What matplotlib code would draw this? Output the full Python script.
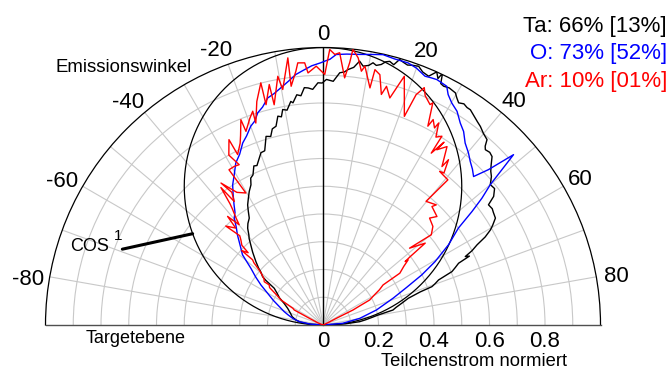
import numpy as np
import matplotlib
matplotlib.use("Agg")
import matplotlib.pyplot as plt

plt.rcParams['font.family'] = ['Liberation Sans', 'DejaVu Sans']

# Emission angle (deg) and normalised particle flux for each species
ta_angle = [-90, -86, -82.5, -79.5, -75, -70, -64.7, -61, -58, -55.5, -53, -52, -51.3, -49.5,
            -48.5, -46.6, -45, -44, -42, -40.5, -39.5, -37.9, -36.5, -34.6, -33.2, -32.1, -30.5,
            -28.9, -27.2, -26.2, -25, -23.5, -22.5, -20.9, -19.8, -18.5, -16.8, -15.5, -14.5,
            -13.3, -12.2, -11.3, -10.6, -9.5, -8.2, -7.7, -6.5, -5.5, -4.5, -3.6, -2.5, -1.2,
            -0.2, 0.8, 2.4, 3.8, 4.8, 5.6, 6.8, 7.9, 8.8, 10, 10.8, 11.6, 12.6, 13.4, 14.2,
            15.2, 16.1, 17, 18, 19, 20.3, 21.5, 23, 24.2, 25.0, 25.4, 26.0, 26.8, 28, 29.7,
            30.5, 31.4, 32.5, 33.5, 34.4, 36, 37.2, 38.4, 40, 41.5, 42.2, 42.8, 44, 45.1, 46.5,
            47.5, 48.6, 50, 51.5, 53, 54, 55.5, 56.5, 58.2, 59.5, 60.4, 61.5, 62.5, 63.5, 64.3,
            64.8, 65.5, 66.5, 67.5, 68.2, 68.7, 69.8, 70.6, 71.2, 72.6, 74.5, 76.5, 77.9, 79.8,
            81.1, 83, 84.8, 87, 90]
ta_flux = [0, 0.05, 0.085, 0.099, 0.115, 0.125, 0.141, 0.16, 0.185, 0.2, 0.22, 0.262, 0.279, 0.295,
           0.31, 0.333, 0.352, 0.365, 0.389, 0.41, 0.42, 0.442, 0.455, 0.468, 0.492, 0.511, 0.53,
           0.55, 0.568, 0.59, 0.597, 0.625, 0.622, 0.644, 0.66, 0.662, 0.71, 0.705, 0.73,
           0.736, 0.77, 0.765, 0.79, 0.785, 0.814, 0.808, 0.835, 0.83, 0.858, 0.856, 0.85, 0.873,
           0.872, 0.885, 0.879, 0.911, 0.915, 0.925, 0.935, 0.96, 0.944, 0.95, 0.962, 0.955, 0.962,
           0.975, 0.98, 0.972, 0.996, 0.99, 0.985, 0.99, 0.994, 0.98, 0.974, 1.0, 0.98, 1.004,
           0.968, 0.964, 0.968, 0.963, 0.95, 0.938, 0.945, 0.94, 0.94, 0.928, 0.92, 0.913, 0.90,
           0.892, 0.87, 0.861, 0.865, 0.86, 0.835, 0.82, 0.809, 0.787, 0.79, 0.77, 0.737, 0.74,
           0.736, 0.731, 0.71, 0.694, 0.665, 0.626, 0.60, 0.569, 0.583, 0.537, 0.52, 0.503, 0.47,
           0.447, 0.43, 0.416, 0.37, 0.322, 0.295, 0.27, 0.258, 0.2, 0.18, 0.155, 0.133, 0.08, 0]

o_angle = [-90, -86, -82, -78, -74, -71, -67, -63.6, -60, -57.2, -54.5, -51.8, -48.9, -46.5, -43.5,
           -41.5, -39.7, -38, -36.5, -34.5, -32.8, -30.5, -28.3, -26, -23.8, -22, -20, -18.5,
           -17.1, -15.5, -13.7, -12, -10.1, -8, -6.2, -4.5, -2.5, -0.5, 0.4, 1.5, 2.8, 5, 7.7,
           10, 12.5, 15, 18, 20, 22.3, 23.5, 24.9, 27.4, 28.5, 30.1, 32.1, 34.2, 36, 38, 40.2,
           42, 43.8, 45.4, 46.8, 48.2, 50, 51.4, 52.7, 54.4, 57.4, 60.5, 63.1, 65.8, 69.1, 74.3,
           79.7, 85, 90]
o_flux = [0, 0.045, 0.085, 0.11, 0.13, 0.148, 0.172, 0.2, 0.232, 0.266, 0.298, 0.331, 0.385, 0.41,
          0.448, 0.472, 0.501, 0.515, 0.539, 0.572, 0.601, 0.63, 0.663, 0.685, 0.717, 0.735, 0.762,
          0.775, 0.80, 0.815, 0.842, 0.852, 0.868, 0.888, 0.908, 0.92, 0.935, 0.945, 0.951, 0.958,
          0.976, 0.98, 0.984, 0.99, 0.998, 0.993, 0.993, 0.985, 0.969, 0.972, 0.975, 0.969, 0.945,
          0.925, 0.909, 0.880, 0.862, 0.832, 0.812, 0.793, 0.778, 0.762, 0.818, 0.921, 0.787,
          0.733, 0.675, 0.600, 0.537, 0.464, 0.399, 0.330, 0.270, 0.200, 0.135, 0.072, 0]

ar_angle = [-90, -67, -64, -62.4, -61, -59.2, -57, -55, -53.3, -53.6, -52, -50.5, -49.4, -48, -47.2,
            -47.5, -46, -45.5, -44, -43, -44.5, -42, -41.3, -39.9, -39, -38, -37.5, -36.6, -35.7,
            -34.5, -35.7, -33, -30.3, -31.2, -29.3, -27.6, -29, -26.9, -26.6, -24.5, -23.5, -21.8,
            -21.7, -19.5, -18.2, -18.4, -16.5, -14.4, -14.5, -12.6, -12.5, -10.3, -9.7, -7.5,
            -7.6, -6.1, -5.5, -4, -3.4, -1.5, 0.4, 1.4, 2.5, 3.5, 5.0, 5.8, 6.2, 7.5, 8.6, 9.2,
            11.2, 11.5, 12.8, 14.2, 14.9, 16.4, 17.6, 18.1, 21.3, 22.0, 23.1, 24.0, 25.9, 26.3,
            27.8, 28.2, 29.5, 29.8, 31.0, 32.2, 32.2, 33.5, 33.0, 34.8, 36.9, 37.2, 38.5, 37.2,
            40.7, 39.8, 43.3, 42.6, 46.4, 44.9, 48.1, 50.2, 48.4, 51.3, 51.9, 52.3, 52.6, 54, 56,
            56.3, 58, 60, 61.8, 62.5, 63.4, 63.3, 65, 90]
ar_flux = [0, 0.02, 0.05, 0.117, 0.124, 0.176, 0.2, 0.235, 0.242, 0.263, 0.27, 0.285, 0.3, 0.335,
           0.346, 0.397, 0.375, 0.41, 0.426, 0.44, 0.50, 0.47, 0.521, 0.471, 0.5, 0.53, 0.55,
           0.617, 0.548, 0.58, 0.63, 0.57, 0.551, 0.654, 0.655, 0.652, 0.70, 0.749, 0.687, 0.72,
           0.745, 0.797, 0.751, 0.79, 0.811, 0.767, 0.84, 0.901, 0.82, 0.888, 0.813, 0.911, 0.861,
           0.971, 0.868, 0.92, 0.949, 0.947, 0.91, 0.933, 0.903, 0.993, 0.976, 0.983, 0.894, 0.95,
           0.999, 0.971, 0.925, 0.945, 0.871, 0.939, 0.925, 0.857, 0.89, 0.853, 0.915, 0.943,
           0.807, 0.895, 0.93, 0.905, 0.883, 0.893, 0.81, 0.84, 0.816, 0.839, 0.79, 0.804, 0.732,
           0.79, 0.753, 0.783, 0.714, 0.748, 0.70, 0.695, 0.69, 0.58, 0.595, 0.58, 0.567, 0.544,
           0.532, 0.508, 0.417, 0.472, 0.399, 0.374, 0.386, 0.36, 0.334, 0.26, 0.24, 0.21, 0.191,
           0.15, 0.121, 0.054, 0.02, 0]

species_labels = ["Ta: 66% [13%]", "O: 73% [52%]", "Ar: 10% [01%]"]
species_colors = ["black", "blue", "red"]

angle_ticks = [-80, -60, -40, -20, 0, 20, 40, 60, 80]
flux_ticks = [0, 0.2, 0.4, 0.6, 0.8]

fig = plt.figure(figsize=(6.7, 3.7), dpi=100)
# polar half-disc: the axes box is square, the wedge fills its middle band
ax = fig.add_axes([0.0679, -0.2534, 0.8284, 1.5], projection='polar')
ax.set_theta_zero_location('N')
ax.set_theta_direction(-1)
ax.set_thetamin(-90)
ax.set_thetamax(90)
ax.set_rlim(0, 1)

# light grid: spokes every 10 deg, rings every 0.1
ax.set_xticks(np.deg2rad(np.arange(-80, 81, 10)))
ax.set_xticklabels([])
ax.set_yticks(np.arange(0.1, 0.95, 0.1))
ax.set_yticklabels([])
ax.tick_params(length=0)
ax.grid(True, color='#c8c8c8', lw=0.8)
ax.spines['polar'].set(color='black', lw=0.9)
ax.spines['start'].set(color='#505050', lw=1.0)
ax.spines['end'].set(color='#505050', lw=1.0)
ax.spines['inner'].set_visible(False)

# target normal
ax.plot([0, 0], [0, 1], color='black', lw=1.0, zorder=3)

# cosine reference distribution
th = np.deg2rad(np.linspace(-90, 90, 721))
ax.plot(th, np.cos(th), color='black', lw=0.9, zorder=3)

for ang, flux, col in [(ta_angle, ta_flux, species_colors[0]),
                       (o_angle, o_flux, species_colors[1]),
                       (ar_angle, ar_flux, species_colors[2])]:
    ax.plot(np.deg2rad(ang), flux, color=col, lw=1.0, zorder=4)

# angle labels around the rim
for t in angle_ticks:
    if t > 0:
        tl, rl = t + 0.6, 1.047 + 0.025 * t / 80
    elif t < 0:
        tl, rl = t - 1.2, 1.058 + 0.018 * (-t) / 80
    else:
        tl, rl = 0, 1.047
    ax.text(np.deg2rad(tl), rl, str(t), ha='center', va='center', fontsize=16,
            clip_on=False)

# flux labels along the baseline
for v in flux_ticks:
    ax.annotate(f"{v:g}", xy=(np.pi / 2, v), xytext=(0, -15.5), textcoords='offset points',
                ha='center', va='baseline', fontsize=16, annotation_clip=False)

# cos^1 marker
ax.annotate('', xy=(np.deg2rad(-55), np.cos(np.deg2rad(-55))),
            xytext=(np.deg2rad(-69.3), 0.773),
            arrowprops=dict(arrowstyle='-', lw=2.2, color='black', shrinkA=0, shrinkB=0),
            annotation_clip=False)
fig.text(90 / 670, 1 - 246.5 / 370, "COS", ha='center', va='center', fontsize=13)
fig.text(118 / 670, 1 - 236 / 370, "1", ha='center', va='center', fontsize=11)

fig.text(123.5 / 670, 1 - 68 / 370, "Emissionswinkel", ha='center', va='center', fontsize=13.4)
fig.text(136 / 670, 1 - 338.5 / 370, "Targetebene", ha='center', va='center', fontsize=13)
fig.text(474 / 670, 4.5 / 370, "Teilchenstrom normiert", ha='center', va='baseline', fontsize=13.2)

for i, (lab, col) in enumerate(zip(species_labels, species_colors)):
    fig.text(667 / 670, 1 - (32 + 27.5 * i) / 370, lab, ha='right', va='baseline',
             fontsize=16, color=col)

fig.savefig("out.png", dpi=100)
